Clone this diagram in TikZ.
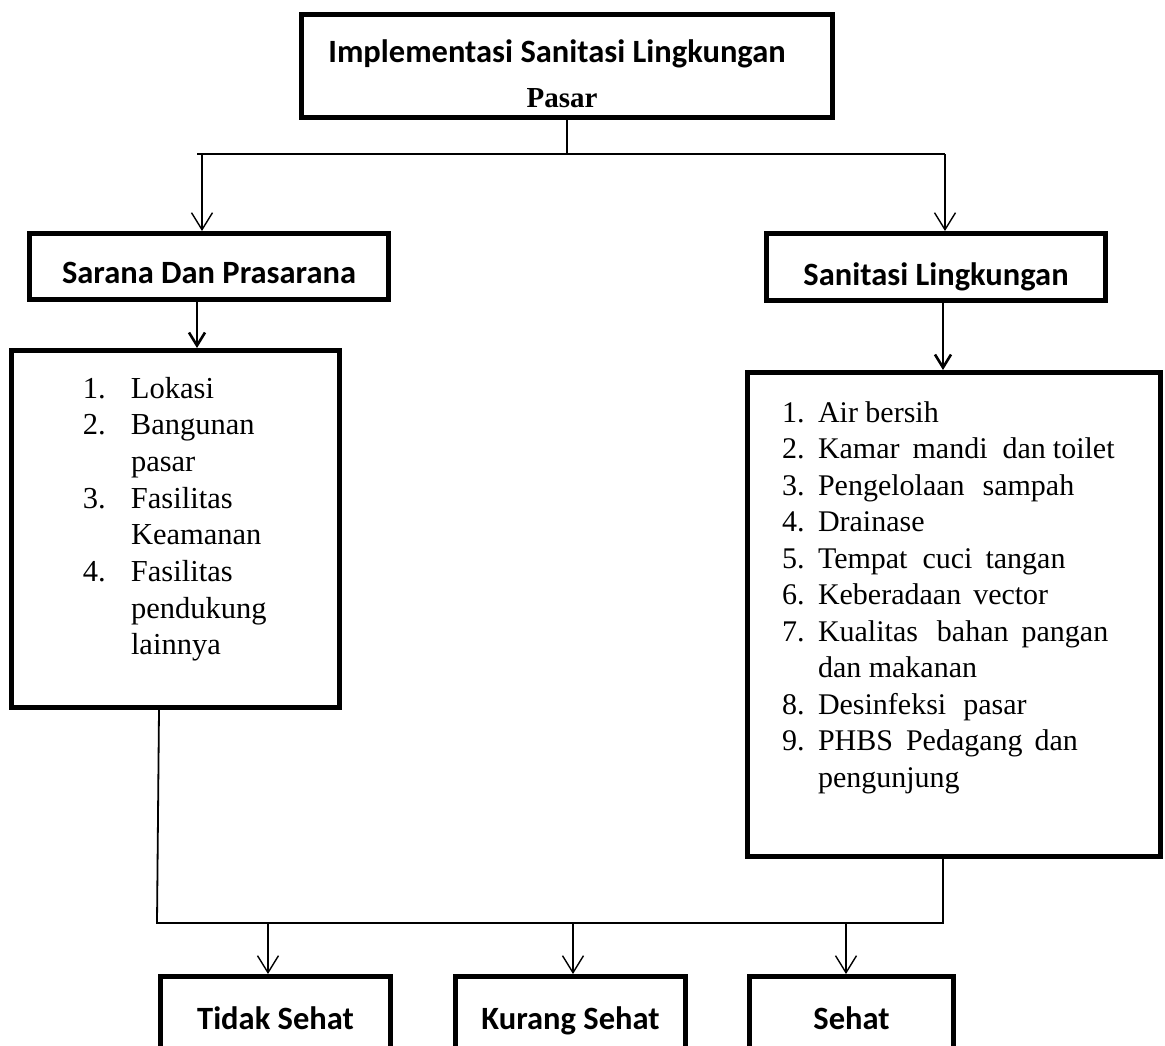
\documentclass[tikz,border=0pt]{standalone}
\usepackage{fontspec}
\setmainfont{Liberation Serif}
\newfontfamily\carl{Carlito}
\usetikzlibrary{arrows.meta}
\tikzset{
  bx/.style={draw, line width=5pt, inner sep=0pt},
  lbl/.style={bx, font=\carl\bfseries\fontsize{32.5}{39}\selectfont, text depth=0pt},
  thinln/.style={line width=1.4pt},
  midln/.style={line width=2.6pt},
  botln/.style={line width=1.8pt},
  arrT/.style={-{Straight Barb[length=17pt,width=21pt]}},
  arrM/.style={-{Straight Barb[length=13pt,width=16pt]}},
}
\newcommand{\lnum}[2]{\hspace*{71.5pt}\makebox[48pt][l]{#1}#2\\}
\newcommand{\lcont}[1]{\hspace*{119.5pt}#1\\}
\newcommand{\rnum}[2]{\hspace*{34.5pt}\makebox[36pt][l]{#1}#2\\}
\newcommand{\rcont}[1]{\hspace*{70.5pt}#1\\}
\newcommand{\gp}[1]{\hspace{#1pt}}
\begin{document}
\begin{tikzpicture}[x=1pt,y=-1pt]
\useasboundingbox (0,0) rectangle (1165,1045);
% top box
\node[bx] (top) at (567,66) {\begin{minipage}[c][103pt][t]{531pt}\centering\fontsize{32.5}{45}\selectfont\rule{0pt}{47.5pt}{\carl\bfseries Implementasi Sanitasi Lingkungan}\kern20pt\null\\{\bfseries\fontsize{29}{45}\selectfont Pasar}\kern10pt\null\end{minipage}};
% second level
\node[lbl, minimum width=359pt, minimum height=66pt, text height=33pt] (sp) at (209,266.5) {Sarana Dan Prasarana};
\node[lbl, minimum width=339pt, minimum height=67pt, text height=36pt] (sl) at (936,267) {Sanitasi Lingkungan};
% lists
\node[bx] (ll) at (175.5,529) {\begin{minipage}[c][357pt][t]{328pt}\fontsize{30.5}{36.7}\selectfont\rule{0pt}{47.5pt}%
\lnum{1.}{Lokasi}\lnum{2.}{Bangunan}\lcont{pasar}\lnum{3.}{Fasilitas}\lcont{Keamanan}\lnum{4.}{Fasilitas}\lcont{pendukung}\lcont{lainnya}\end{minipage}};
\node[bx] (rl) at (954,614.5) {\begin{minipage}[c][484pt][t]{413pt}\fontsize{30}{36.5}\selectfont\rule{0pt}{49.5pt}%
\rnum{1.}{Air bersih}%
\rnum{2.}{Kamar\gp{13}mandi\gp{15}dan\gp{7}toilet}%
\rnum{3.}{Pengelolaan\gp{18}sampah}%
\rnum{4.}{Drainase}%
\rnum{5.}{Tempat\gp{15}cuci\gp{13}tangan}%
\rnum{6.}{Keberadaan\gp{12}vector}%
\rnum{7.}{Kualitas\gp{19}bahan\gp{13}pangan}%
\rcont{dan makanan}%
\rnum{8.}{Desinfeksi\gp{17}pasar}%
\rnum{9.}{PHBS\gp{13}Pedagang\gp{12}dan}%
\rcont{pengunjung}\end{minipage}};
% bottom boxes
\node[lbl, minimum width=230pt, minimum height=90pt, text height=15pt] (b1) at (275.5,1021.5) {Tidak Sehat};
\node[lbl, minimum width=230pt, minimum height=90pt, text height=15pt] (b2) at (570.5,1021.5) {Kurang Sehat};
\node[lbl, minimum width=204pt, minimum height=90pt, text height=15pt] (b3) at (851.5,1021.5) {Sehat};
% coordinates
\coordinate (hL) at (197,154);
\coordinate (hR) at (945,154);
\coordinate (aL) at (202,154);
\coordinate (c1) at (197,0);
\coordinate (c2) at (943,0);
\coordinate (c3) at (157,923);
\coordinate (c3t) at (159,0);
\coordinate (c4) at (943,923);
\coordinate (d1) at (268,923);
\coordinate (d2) at (573,923);
\coordinate (d3) at (846,923);
% connectors
\draw[thinln] (top.south) -- (top.south |- hL);
\draw[thinln] (hL) -- (hR);
\draw[thinln,arrT] (aL) -- (aL |- sp.north);
\draw[thinln,arrT] (hR) -- (hR |- sl.north);
\draw[midln,arrM] (c1 |- sp.south) -- (c1 |- ll.north);
\draw[midln,arrM] (c2 |- sl.south) -- (c2 |- rl.north);
\draw[botln] (c3t |- ll.south) -- (c3) -- (c4) -- (c4 |- rl.south);
\draw[thinln,arrT] (d1) -- (d1 |- b1.north);
\draw[thinln,arrT] (d2) -- (d2 |- b2.north);
\draw[thinln,arrT] (d3) -- (d3 |- b3.north);
\end{tikzpicture}
\end{document}
